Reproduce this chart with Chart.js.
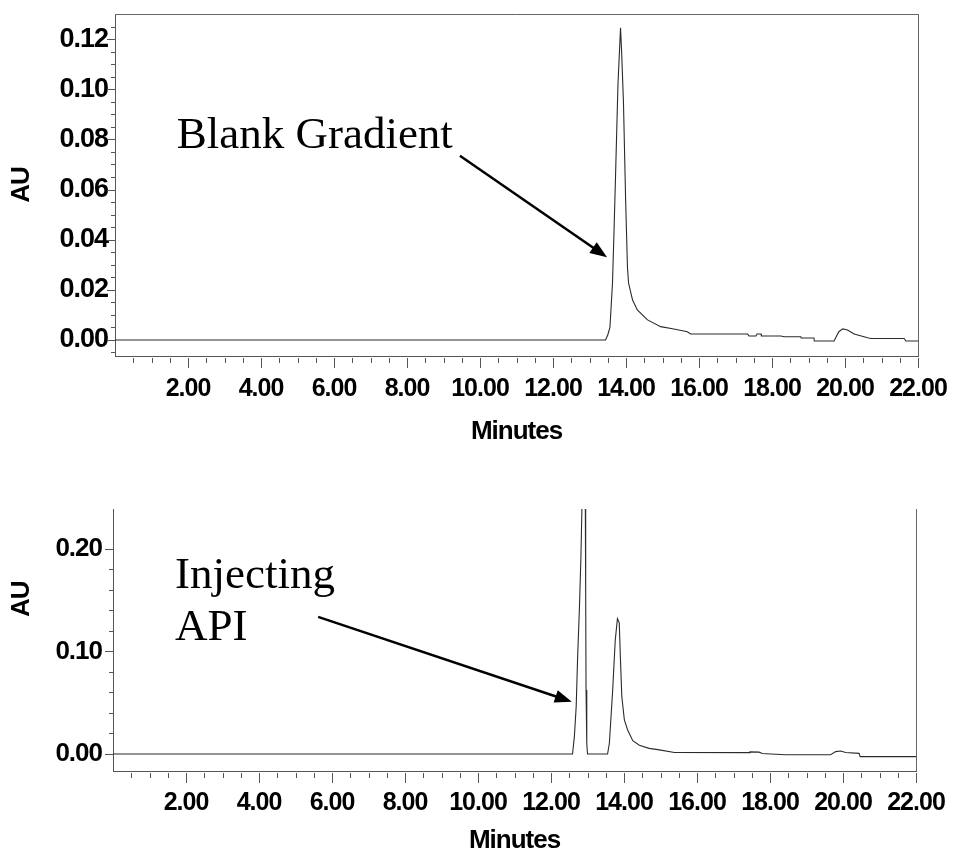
<!DOCTYPE html>
<html><head><meta charset="utf-8">
<script src="https://cdn.jsdelivr.net/npm/chart.js@4.4.1/dist/chart.umd.min.js"></script>
<style>
html,body{margin:0;padding:0;background:#fff;width:953px;height:854px;overflow:hidden}
#w1{position:absolute;left:0;top:0;width:953px;height:450px}
#w2{position:absolute;left:0;top:450px;width:953px;height:404px}
</style></head><body>
<div id="w1"><canvas id="c1"></canvas></div>
<div id="w2"><canvas id="c2"></canvas></div>
<script>
// ---- data ----
const xMajorTicks = [2, 4, 6, 8, 10, 12, 14, 16, 18, 20, 22];
const xTickLabels = ['2.00','4.00','6.00','8.00','10.00','12.00','14.00','16.00','18.00','20.00','22.00'];
const yTicksTop = [0, 0.02, 0.04, 0.06, 0.08, 0.10, 0.12];
const yTickLabelsTop = ['0.00','0.02','0.04','0.06','0.08','0.10','0.12'];
const yTicksBottom = [0, 0.10, 0.20];
const yTickLabelsBottom = ['0.00','0.10','0.20'];

// Blank gradient chromatogram (minutes, AU)
const topTimes = [0, 13.44, 13.50, 13.56, 13.63, 13.67, 13.72, 13.78, 13.85, 13.88, 13.93, 13.99, 14.04, 14.07, 14.13, 14.18, 14.31, 14.59, 14.95, 15.31, 15.68, 15.77, 17.33, 17.37, 17.56, 17.59, 17.70, 17.71, 18.24, 18.33, 18.79, 18.80, 19.15, 19.16, 19.70, 19.83, 19.94, 20.07, 20.25, 20.62, 20.71, 21.62, 21.67, 22.0];
const topAU    = [0, 0, 0.002, 0.005, 0.0227, 0.0425, 0.069, 0.102, 0.1245, 0.115, 0.095, 0.0557, 0.029, 0.0227, 0.019, 0.0159, 0.012, 0.008, 0.0053, 0.0044, 0.0033, 0.0024, 0.0024, 0.0016, 0.0016, 0.0024, 0.0024, 0.0016, 0.0016, 0.0013, 0.0013, 0.0008, 0.0008, -0.0004, -0.0004, 0.0033, 0.0044, 0.004, 0.0024, 0.0009, 0.0006, 0.0006, -0.0004, -0.0004];

// Injecting API chromatogram (minutes, AU)
const botTimes = [0, 12.59, 12.64, 12.69, 12.73, 12.78, 12.82, 12.85, 12.90, 12.94, 12.95, 12.96, 12.98, 13.00, 13.55, 13.60, 13.69, 13.76, 13.82, 13.87, 13.90, 13.94, 14.01, 14.10, 14.24, 14.42, 14.69, 14.97, 15.38, 17.43, 17.45, 17.70, 17.79, 18.02, 18.43, 19.66, 19.80, 19.94, 20.07, 20.44, 20.47, 22.0];
const botAU    = [0, 0, 0.0169, 0.046, 0.095, 0.1437, 0.1925, 0.245, 0.32, 0.245, 0.16, 0.0624, 0.0107, 0, 0, 0.0107, 0.0624, 0.111, 0.132, 0.128, 0.095, 0.056, 0.0332, 0.0234, 0.013, 0.0085, 0.0055, 0.004, 0.0015, 0.0013, 0.002, 0.0018, 0.0005, 0, -0.0007, -0.0007, 0.0023, 0.0029, 0.0015, 0.0006, -0.0026, -0.0026];

// annotations (data units)
const topNoteText = ['Blank Gradient'];
const topNoteAt = [[1.69, 0.0767]];
const topArrow = [9.45, 0.0735, 13.48, 0.0330];
const botNoteText = ['Injecting', 'API'];
const botNoteAt = [[1.70, 0.162], [1.70, 0.111]];
const botArrow = [5.62, 0.1337, 12.57, 0.051];

const FAM = '"Liberation Sans", Arial, Helvetica, sans-serif';
const SERIF = '"Liberation Serif", "Times New Roman", Times, serif';

const framePlugin = {
  id: 'frame',
  beforeDraw(chart) { chart.ctx.letterSpacing = '-1px'; },
  afterDraw(chart, args, o) {
    const {ctx, chartArea: a, scales: {x, y}} = chart;
    ctx.save();
    ctx.letterSpacing = '0px';
    ctx.strokeStyle = '#555';
    ctx.lineWidth = 1;
    ctx.beginPath();
    for (let i = 1; i <= 44; i++) {
      const px = Math.round(x.getPixelForValue(i * 0.5)) + 0.5;
      const len = (i % 4 === 0) ? o.xMajorLen : o.xMinorLen;
      ctx.moveTo(px, a.bottom + 2);
      ctx.lineTo(px, a.bottom + 2 + len);
    }
    const n = Math.round((o.yTo - o.yFrom) / o.yStep);
    for (let k = 0; k <= n; k++) {
      const v = o.yFrom + k * o.yStep;
      const py = Math.round(y.getPixelForValue(v)) + 0.5;
      const r = v / o.yMajor;
      const major = Math.abs(r - Math.round(r)) < 1e-6;
      const len = major ? o.yMajorLen : o.yMinorLen;
      ctx.moveTo(a.left - len, py);
      ctx.lineTo(a.left + (major ? 0 : 1), py);
    }
    ctx.stroke();
    ctx.strokeStyle = '#666';
    ctx.beginPath();
    if (o.topBorder) { ctx.moveTo(a.left, a.top + 0.5); ctx.lineTo(a.right, a.top + 0.5); }
    if (o.rightBorder) { ctx.moveTo(a.right + 0.5, a.top); ctx.lineTo(a.right + 0.5, a.bottom); }
    ctx.stroke();

    // annotation text
    ctx.fillStyle = '#000';
    ctx.font = '45px ' + SERIF;
    ctx.textBaseline = 'alphabetic';
    ctx.textAlign = 'left';
    o.texts.forEach((t, i) => {
      ctx.fillText(t, x.getPixelForValue(o.textAt[i][0]), y.getPixelForValue(o.textAt[i][1]));
    });
    // arrow
    const ar = o.arrow;
    const x1 = x.getPixelForValue(ar[0]), y1 = y.getPixelForValue(ar[1]);
    const x2 = x.getPixelForValue(ar[2]), y2 = y.getPixelForValue(ar[3]);
    const ang = Math.atan2(y2 - y1, x2 - x1), L = 17, W = 6.5;
    const bx = x2 - L * Math.cos(ang), by = y2 - L * Math.sin(ang);
    ctx.strokeStyle = '#000';
    ctx.lineWidth = 2.5;
    ctx.beginPath(); ctx.moveTo(x1, y1); ctx.lineTo(bx + 2 * Math.cos(ang), by + 2 * Math.sin(ang)); ctx.stroke();
    ctx.beginPath();
    ctx.moveTo(x2, y2);
    ctx.lineTo(bx + W * Math.sin(ang), by - W * Math.cos(ang));
    ctx.lineTo(bx - W * Math.sin(ang), by + W * Math.cos(ang));
    ctx.closePath(); ctx.fill();

    if (o.yTitle) {
      ctx.save();
      ctx.letterSpacing = '-1px';
      ctx.font = 'bold 26px ' + FAM;
      ctx.textAlign = 'center';
      ctx.textBaseline = 'middle';
      ctx.translate(22, y.getPixelForValue(o.yTitleAt));
      ctx.rotate(-Math.PI / 2);
      ctx.fillText(o.yTitle, 0, 0);
      ctx.restore();
    }
    ctx.restore();
  }
};

function zeroPad(s) { s.paddingLeft = 0; s.paddingRight = 0; s.paddingTop = 0; s.paddingBottom = 0; }

function makeChart(id, times, vals, c) {
  return new Chart(document.getElementById(id), {
    type: 'line',
    data: { datasets: [{
      data: times.map((t, i) => ({ x: t, y: vals[i] })),
      borderColor: '#2b2b2b', borderWidth: 1.1, pointRadius: 0, tension: 0, fill: false
    }] },
    options: {
      responsive: true, maintainAspectRatio: false, animation: false,
      layout: { padding: { top: c.top, right: c.right, left: 0, bottom: 0 } },
      plugins: { legend: { display: false }, tooltip: { enabled: false }, frame: c.frame },
      scales: {
        x: {
          type: 'linear', min: 0, max: 22,
          afterBuildTicks: s => { s.ticks = xMajorTicks.map(v => ({ value: v })); },
          afterFit: s => { s.height = c.xh; zeroPad(s); },
          grid: { display: false, drawTicks: false },
          border: { display: true, color: '#555', width: 1 },
          ticks: { padding: c.xpad, autoSkip: false, maxRotation: 0, color: '#000',
                   font: { family: FAM, size: 25, weight: 'bold' },
                   callback: (v, i) => xTickLabels[i] },
          title: { display: true, text: 'Minutes', color: '#000',
                   font: { family: FAM, size: 26, weight: 'bold', lineHeight: 1 },
                   padding: { top: 0, bottom: c.tpad } }
        },
        y: {
          type: 'linear', min: c.ymin, max: c.ymax,
          afterBuildTicks: s => { s.ticks = c.yticks.map(v => ({ value: v })); },
          afterFit: s => { s.width = c.yw; zeroPad(s); },
          grid: { display: false, drawTicks: false },
          border: { display: true, color: '#555', width: 1 },
          ticks: { padding: c.ypad, autoSkip: false, color: '#000',
                   font: { family: FAM, size: c.yfs, weight: 'bold' },
                   callback: (v, i) => c.ylabels[i] },
          title: c.ytitle
        }
      }
    },
    plugins: [framePlugin]
  });
}

makeChart('c1', topTimes, topAU, {
  top: 14, right: 35, xh: 94, yw: 115, xpad: 18, tpad: 5, ypad: 7, yfs: 27,
  ymin: -0.0064, ymax: 0.130, yticks: yTicksTop, ylabels: yTickLabelsTop,
  ytitle: { display: true, text: 'AU', color: '#000',
            font: { family: FAM, size: 26, weight: 'bold', lineHeight: 1 },
            padding: { top: 9, bottom: 0 } },
  frame: { xMajorLen: 10, xMinorLen: 5, yFrom: -0.005, yTo: 0.125, yStep: 0.005, yMajor: 0.02,
           yMajorLen: 8, yMinorLen: 4, topBorder: true, rightBorder: true,
           texts: topNoteText, textAt: topNoteAt, arrow: topArrow }
});

makeChart('c2', botTimes, botAU, {
  top: 59, right: 37, xh: 83, yw: 113, xpad: 17, tpad: 0, ypad: 11, yfs: 26,
  ymin: -0.0166, ymax: 0.239, yticks: yTicksBottom, ylabels: yTickLabelsBottom,
  ytitle: { display: false },
  frame: { xMajorLen: 10, xMinorLen: 5, yFrom: 0, yTo: 0.20, yStep: 0.02, yMajor: 0.10,
           yMajorLen: 8, yMinorLen: 4, topBorder: false, rightBorder: true,
           texts: botNoteText, textAt: botNoteAt, arrow: botArrow,
           yTitle: 'AU', yTitleAt: 0.151 }
});
</script>
</body></html>
